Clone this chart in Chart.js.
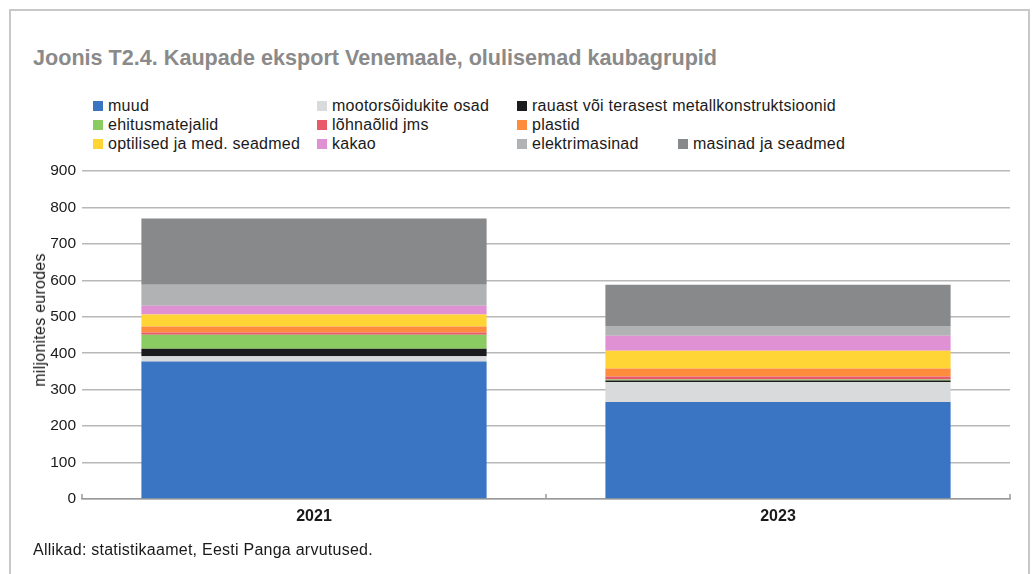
<!DOCTYPE html>
<html>
<head>
<meta charset="utf-8">
<script src="https://cdn.jsdelivr.net/npm/chart.js@4.4.1/dist/chart.umd.min.js"></script>
<style>
  html, body { margin:0; padding:0; background:#fff; }
  body { width:1032px; height:574px; position:relative; overflow:hidden; font-family:"Liberation Sans", Arial, sans-serif; }
  #frame { position:absolute; left:9px; top:9px; width:1021px; height:620px; border:2px solid #c8c8c8; box-sizing:border-box; }
  #title { position:absolute; left:33px; top:45px; font-size:21.6px; font-weight:bold; color:#8a8a8a; white-space:nowrap; }
  #legend { position:absolute; left:0; top:0; }
  .li { position:absolute; font-size:16px; letter-spacing:0.25px; color:#1a1a1a; white-space:nowrap; line-height:18px; }
  .li span.b { position:absolute; left:0; top:4px; width:10px; height:10px; }
  .li span.t { position:absolute; left:15px; top:0; }
  #source { position:absolute; left:33px; top:541px; font-size:16px; letter-spacing:0.25px; color:#1a1a1a; white-space:nowrap; }
  #ytitle { position:absolute; left:40px; top:320px; transform:translate(-50%,-50%) rotate(-90deg); font-size:16px; letter-spacing:0.25px; color:#1a1a1a; white-space:nowrap; }
  #wrap { position:absolute; left:0; top:0; width:1032px; height:574px; }
</style>
</head>
<body>
<div id="frame"></div>
<div id="title">Joonis T2.4. Kaupade eksport Venemaale, olulisemad kaubagrupid</div>
<div id="legend"></div>
<div id="wrap"><canvas id="c" width="1032" height="574"></canvas></div>
<div id="ytitle">miljonites eurodes</div>
<div id="source">Allikad: statistikaamet, Eesti Panga arvutused.</div>
<script>
// ---- data ----
const categories = ["2021", "2023"];
const seriesNames = [
  "muud",
  "mootorsõidukite osad",
  "rauast või terasest metallkonstruktsioonid",
  "ehitusmatejalid",
  "lõhnaõlid jms",
  "plastid",
  "optilised ja med. seadmed",
  "kakao",
  "elektrimasinad",
  "masinad ja seadmed"
];
const muud = [377, 266];
const mootorsoidukiteOsad = [15, 55];
const rauastMetall = [20, 4];
const ehitusmaterjalid = [39, 3];
const lohnaolid = [6, 8];
const plastid = [16, 22];
const optilised = [33, 49];
const kakao = [24, 41];
const elektrimasinad = [58, 27];
const masinad = [182, 113];
const yTicks = [0, 100, 200, 300, 400, 500, 600, 700, 800, 900];
const yAxisTitle = "miljonites eurodes";

// ---- styles ----
const colors = ["#3a75c4", "#d9dadc", "#1c1c1e", "#8acb62", "#e85a6a", "#ff8c3c", "#ffd536", "#df91d3", "#b1b2b4", "#88898b"];
const seriesValues = [muud, mootorsoidukiteOsad, rauastMetall, ehitusmaterjalid, lohnaolid, plastid, optilised, kakao, elektrimasinad, masinad];

document.getElementById('ytitle').textContent = yAxisTitle;

// legend layout (Excel-like flow)
const legendColX = [93, 317, 517, 678];
const legendRowY = [97, 116, 135];
const legendSlots = [[0,0],[0,1],[0,2],[1,0],[1,1],[1,2],[2,0],[2,1],[2,2],[2,3]];
const legendEl = document.getElementById('legend');
seriesNames.forEach((n, i) => {
  const d = document.createElement('div');
  d.className = 'li';
  d.style.left = legendColX[legendSlots[i][1]] + 'px';
  d.style.top = legendRowY[legendSlots[i][0]] + 'px';
  d.innerHTML = '<span class="b" style="background:' + colors[i] + '"></span><span class="t"></span>';
  d.querySelector('.t').textContent = n;
  legendEl.appendChild(d);
});

// inward category tick marks plugin
const catTicks = {
  id: 'catTicks',
  afterDraw(chart) {
    const xs = chart.scales.x, ca = chart.chartArea, ctx = chart.ctx;
    const n = categories.length;
    const step = (xs.getPixelForValue(1) - xs.getPixelForValue(0));
    ctx.save();
    ctx.strokeStyle = '#9a9a9a';
    ctx.lineWidth = 1.5;
    for (let i = 0; i <= n; i++) {
      const px = xs.getPixelForValue(0) - step / 2 + i * step;
      ctx.beginPath();
      ctx.moveTo(px, ca.bottom);
      ctx.lineTo(px, ca.bottom - 5);
      ctx.stroke();
    }
    ctx.restore();
  }
};

const FONT = '"Liberation Sans", Arial, sans-serif';
new Chart(document.getElementById('c'), {
  type: 'bar',
  data: {
    labels: categories,
    datasets: seriesNames.map((n, i) => ({
      label: n,
      data: seriesValues[i],
      backgroundColor: colors[i],
      borderWidth: 0,
      categoryPercentage: 0.744,
      barPercentage: 1
    }))
  },
  options: {
    responsive: false,
    animation: false,
    devicePixelRatio: 1,
    layout: { padding: { top: 171, right: 22, bottom: 45, left: 0 } },
    plugins: { legend: { display: false }, title: { display: false }, tooltip: { enabled: false } },
    scales: {
      x: {
        stacked: true,
        grid: { display: false, drawTicks: false },
        border: { display: true, color: '#9a9a9a', width: 1.5 },
        ticks: { color: '#1a1a1a', font: { family: FONT, size: 16, weight: 'bold' }, padding: 8 },
        afterFit(s) { s.height = 30; }
      },
      y: {
        stacked: true,
        min: 0, max: 900,
        afterBuildTicks(s) { s.ticks = yTicks.map(v => ({ value: v })); },
        grid: { color: '#b8b8b8', lineWidth: 1.5, drawTicks: false },
        border: { display: false },
        ticks: { color: '#1a1a1a', font: { family: FONT, size: 15.5 }, padding: 6 },
        afterFit(s) { s.width = 82; }
      }
    }
  },
  plugins: [catTicks]
});
</script>
</body>
</html>
